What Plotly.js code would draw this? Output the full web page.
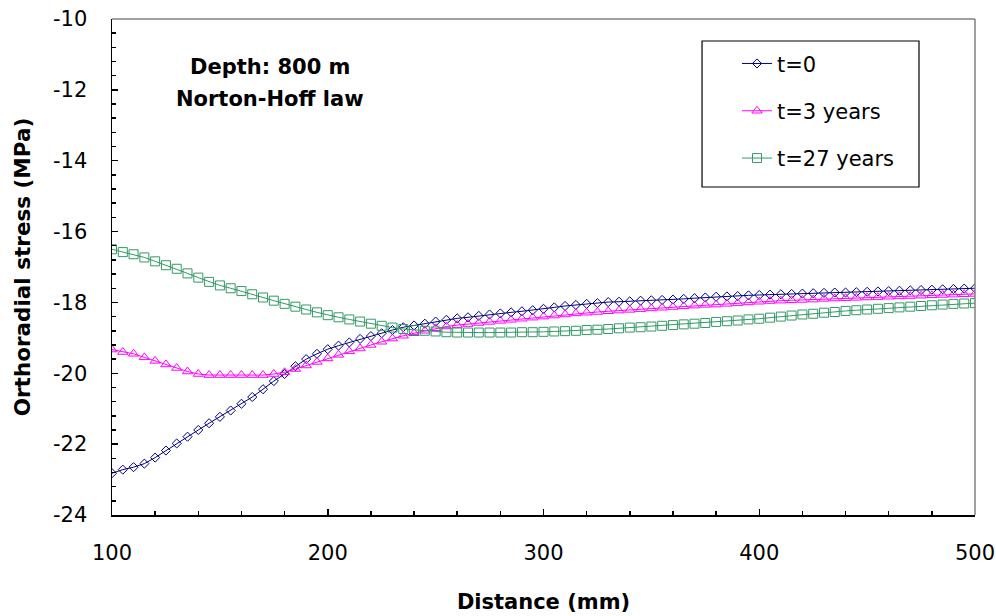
<!DOCTYPE html>
<html>
<head>
<meta charset="utf-8">
<script src="https://cdn.plot.ly/plotly-3.0.1.min.js"></script>
<style>html,body{margin:0;padding:0;background:#fff;}#chart{width:996px;height:616px;}</style>
</head>
<body>
<div id="chart"></div>
<script>
const distance = [100,105,110,115,120,125,130,135,140,145,150,155,160,165,170,175,180,185,190,195,200,205,210,215,220,225,230,235,240,245,250,255,260,265,270,275,280,285,290,295,300,305,310,315,320,325,330,335,340,345,350,355,360,365,370,375,380,385,390,395,400,405,410,415,420,425,430,435,440,445,450,455,460,465,470,475,480,485,490,495,500];

const stressT0 = [-22.82,-22.72,-22.65,-22.55,-22.38,-22.18,-21.98,-21.79,-21.60,-21.41,-21.23,-21.05,-20.86,-20.67,-20.45,-20.22,-20.02,-19.80,-19.60,-19.45,-19.32,-19.22,-19.13,-19.03,-18.95,-18.87,-18.78,-18.70,-18.65,-18.60,-18.54,-18.49,-18.45,-18.42,-18.38,-18.34,-18.31,-18.28,-18.25,-18.22,-18.18,-18.14,-18.10,-18.07,-18.04,-18.02,-17.99,-17.98,-17.97,-17.95,-17.94,-17.93,-17.92,-17.90,-17.88,-17.86,-17.84,-17.83,-17.82,-17.80,-17.79,-17.78,-17.77,-17.76,-17.75,-17.74,-17.73,-17.72,-17.72,-17.71,-17.70,-17.69,-17.68,-17.67,-17.66,-17.65,-17.64,-17.63,-17.62,-17.61,-17.60];

const stressT3 = [-19.33,-19.40,-19.45,-19.55,-19.65,-19.75,-19.85,-19.95,-20.02,-20.05,-20.05,-20.05,-20.05,-20.05,-20.05,-20.02,-19.97,-19.88,-19.78,-19.68,-19.58,-19.48,-19.38,-19.30,-19.20,-19.11,-19.02,-18.94,-18.87,-18.80,-18.73,-18.68,-18.64,-18.61,-18.58,-18.55,-18.52,-18.49,-18.46,-18.43,-18.40,-18.37,-18.34,-18.31,-18.29,-18.27,-18.25,-18.23,-18.21,-18.19,-18.17,-18.15,-18.13,-18.11,-18.09,-18.07,-18.06,-18.04,-18.02,-18.00,-17.98,-17.96,-17.95,-17.94,-17.93,-17.92,-17.90,-17.89,-17.88,-17.87,-17.86,-17.85,-17.84,-17.83,-17.82,-17.81,-17.80,-17.79,-17.78,-17.77,-17.76];

const stressT27 = [-16.50,-16.58,-16.64,-16.73,-16.84,-16.95,-17.05,-17.18,-17.30,-17.42,-17.52,-17.60,-17.68,-17.77,-17.86,-17.95,-18.04,-18.12,-18.20,-18.28,-18.36,-18.42,-18.48,-18.54,-18.60,-18.66,-18.71,-18.75,-18.78,-18.80,-18.82,-18.84,-18.85,-18.85,-18.85,-18.85,-18.85,-18.85,-18.84,-18.84,-18.83,-18.82,-18.81,-18.80,-18.78,-18.77,-18.75,-18.73,-18.71,-18.70,-18.68,-18.66,-18.64,-18.62,-18.60,-18.58,-18.55,-18.53,-18.51,-18.48,-18.46,-18.43,-18.40,-18.37,-18.34,-18.32,-18.29,-18.27,-18.24,-18.22,-18.20,-18.18,-18.16,-18.14,-18.12,-18.10,-18.08,-18.06,-18.04,-18.03,-18.02];

const seriesNames = ["t=0", "t=3 years", "t=27 years"];
const xTicks = [100, 200, 300, 400, 500];
const yTicks = [-10, -12, -14, -16, -18, -20, -22, -24];

const FONT = "DejaVu Sans, Verdana, sans-serif";

const traces = [
  {x: distance, y: stressT0, name: seriesNames[0], mode: "lines+markers", legendgroup: "a",
   line: {color: "#000080", width: 1}, marker: {symbol: "diamond-open", size: 7, color: "#000080", line: {width: 1}}},
  {x: distance, y: stressT3, name: seriesNames[1], mode: "lines+markers", legendgroup: "b",
   line: {color: "#FF00FF", width: 1}, marker: {symbol: "triangle-up-open", size: 9, color: "#FF00FF", line: {width: 1}}},
  {x: distance, y: stressT27, name: seriesNames[2], mode: "lines+markers", legendgroup: "c",
   line: {color: "#339966", width: 1}, marker: {symbol: "square-open", size: 9, color: "#339966", line: {width: 1}}}
];

const layout = {
  width: 996, height: 616,
  margin: {l: 112, r: 21, t: 19, b: 101},
  paper_bgcolor: "#fff", plot_bgcolor: "#fff",
  font: {family: FONT, size: 21, color: "#000"},
  showlegend: true,
  legend: {x: 0.7242, y: 0.951, xanchor: "left", yanchor: "top",
           bgcolor: "rgba(0,0,0,0)", borderwidth: 0,
           font: {family: FONT, size: 21, color: "#000"},
           traceorder: "grouped", tracegroupgap: 17},
  xaxis: {range: [100, 500], tickvals: xTicks, ticktext: xTicks.map(String),
          showgrid: false, zeroline: false, showline: true, linecolor: "#000", linewidth: 1.5,
          ticks: "inside", ticklen: 6, tickwidth: 1.5, tickcolor: "#000",
          minor: {dtick: 20, ticks: "inside", ticklen: 4, tickwidth: 1.5, tickcolor: "#000", showgrid: false},
          ticklabelstandoff: 18,
          tickfont: {family: FONT, size: 21},
          title: {text: "<b>Distance (mm)</b>", font: {family: FONT, size: 21}, standoff: 30}},
  yaxis: {range: [-24, -10], tickvals: yTicks, ticktext: yTicks.map(String),
          showgrid: false, zeroline: false, showline: true, linecolor: "#000", linewidth: 1.5,
          ticks: "inside", ticklen: 6, tickwidth: 1.5, tickcolor: "#000",
          minor: {dtick: 0.4, ticks: "inside", ticklen: 4, tickwidth: 1.5, tickcolor: "#000", showgrid: false},
          ticklabelstandoff: 19,
          tickfont: {family: FONT, size: 21},
          title: {text: "<b>Orthoradial stress (MPa)</b>", font: {family: FONT, size: 21.5}, standoff: 16}},
  shapes: [
    {type: "line", xref: "paper", yref: "paper", x0: 0, x1: 1, y0: 1, y1: 1, line: {color: "#808080", width: 1.5}},
    {type: "line", xref: "paper", yref: "paper", x0: 1, x1: 1, y0: 0, y1: 1, line: {color: "#808080", width: 1.5}},
    {type: "rect", xref: "paper", yref: "paper", x0: 0.6837, x1: 0.9351, y0: 0.6613, y1: 0.9556,
     fillcolor: "#fff", line: {color: "#000", width: 1.2}, layer: "above"}
  ],
  annotations: [
    {xref: "paper", yref: "paper", x: 0.183, y: 0.903, xanchor: "center", yanchor: "middle", showarrow: false,
     text: "<b>Depth: 800 m</b>", font: {family: FONT, size: 21}},
    {xref: "paper", yref: "paper", x: 0.183, y: 0.839, xanchor: "center", yanchor: "middle", showarrow: false,
     text: "<b>Norton-Hoff law</b>", font: {family: FONT, size: 21}}
  ]
};

Plotly.newPlot("chart", traces, layout, {displayModeBar: false, staticPlot: true});
</script>
</body>
</html>
